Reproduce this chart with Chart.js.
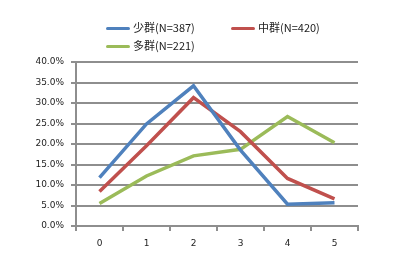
<!DOCTYPE html>
<html><head><meta charset="utf-8">
<script src="https://cdn.jsdelivr.net/npm/chart.js@4"></script>
<style>
html,body{margin:0;padding:0;background:#fff;}
#wrap{position:relative;width:400px;height:270px;}
canvas{position:absolute;left:0;top:0;}
.lg{position:absolute;font-family:"Noto Sans CJK JP","DejaVu Sans",sans-serif;font-size:11px;color:#222;white-space:nowrap;line-height:14px;}
.sw{display:inline-block;width:24px;height:3px;border-radius:2px;vertical-align:middle;margin-right:3px;position:relative;top:-1px;}
</style></head>
<body><div id="wrap"><canvas id="c" width="400" height="270"></canvas></div>
<script>
const categories = ['0','1','2','3','4','5'];
const seriesNames = ['少群(N=387)','中群(N=420)','多群(N=221)'];
const shaoValues = [11.8, 24.9, 34.2, 18.5, 5.3, 5.7];
const zhongValues = [8.4, 19.6, 31.3, 23.0, 11.6, 6.6];
const duoValues = [5.5, 12.2, 17.1, 18.7, 26.7, 20.3];
const colors = ['#4f81bd','#c0504d','#9bbb59'];
const legendPos = [[106,20],[231,20],[106,38]];

const seriesValues = [shaoValues, zhongValues, duoValues];
const wrap = document.getElementById('wrap');
seriesNames.forEach((n,i)=>{
  const d = document.createElement('div');
  d.className='lg';
  d.style.left = legendPos[i][0]+'px';
  d.style.top = legendPos[i][1]+'px';
  d.innerHTML = '<span class="sw" style="background:'+colors[i]+'"></span>';
  d.appendChild(document.createTextNode(n));
  wrap.appendChild(d);
});

new Chart(document.getElementById('c'), {
  type:'line',
  data:{
    labels: categories,
    datasets: seriesNames.map((n,i)=>({
      label:n, data: seriesValues[i].map(v=>v/100),
      borderColor:colors[i], backgroundColor:colors[i],
      borderWidth:3.5, pointRadius:0, tension:0, fill:false
    }))
  },
  options:{
    responsive:false, animation:false,
    layout:{padding:{left:0,top:62,right:42,bottom:0}},
    plugins:{legend:{display:false},tooltip:{enabled:false}},
    scales:{
      x:{
        offset:true,
        grid:{offset:true, drawOnChartArea:false, color:'#8e8e8e', lineWidth:2, tickLength:5},
        border:{color:'#8e8e8e', width:2},
        ticks:{color:'#222', font:{family:'DejaVu Sans', size:9}, padding:7},
        afterFit:s=>{s.height=44;}
      },
      y:{
        min:0, max:0.4,
        grid:{color:'#8e8e8e', lineWidth:2, tickLength:5},
        border:{color:'#8e8e8e', width:2},
        ticks:{stepSize:0.05, color:'#222', font:{family:'DejaVu Sans', size:9}, padding:7,
          callback:v=>(v*100).toFixed(1)+'%'},
        afterFit:s=>{s.width=76;}
      }
    }
  }
});
</script></body></html>
